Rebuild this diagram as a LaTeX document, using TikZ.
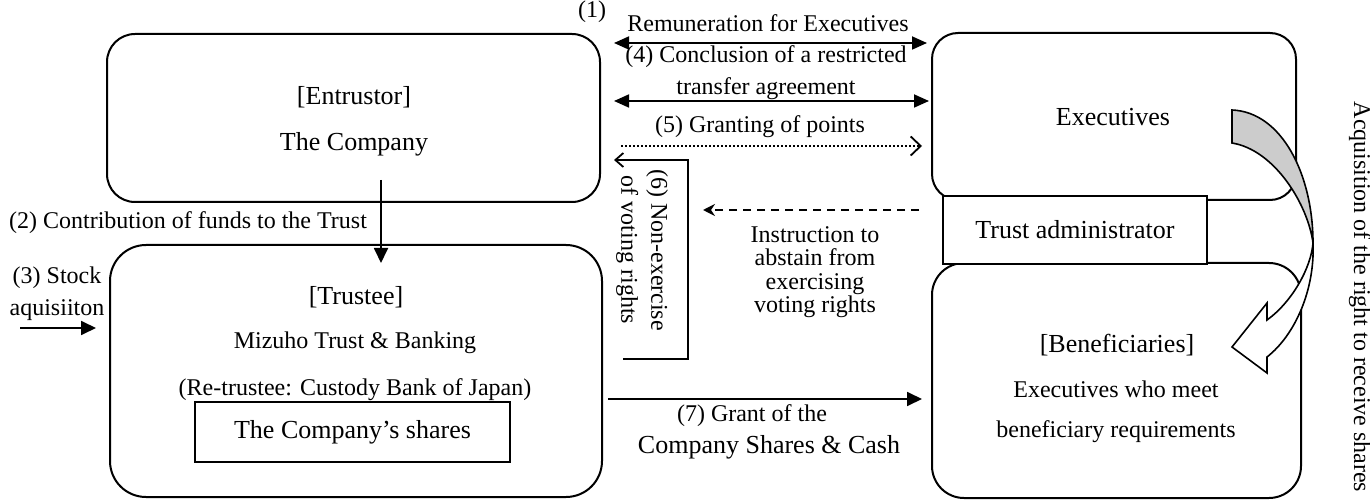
\documentclass[tikz,border=0pt]{standalone}
\usepackage{fontspec}
\setmainfont{Liberation Serif}
\usetikzlibrary{arrows.meta}
\tikzset{
  box/.style={draw, line width=1pt, inner sep=0pt},
  lbl/.style={inner sep=0pt, align=center, font=\fontsize{12}{14}\selectfont},
  big/.style={font=\fontsize{13}{15}\selectfont},
  conn/.style={line width=0.9pt},
  solidhead/.style={-{Triangle[length=7.5pt,width=7pt]}},
  dblhead/.style={{Triangle[length=7.5pt,width=6.5pt]}-{Triangle[length=7.5pt,width=6.5pt]}},
  openhead/.style={-{Straight Barb[length=5pt,width=9.5pt,line width=0.9pt]}},
  barbhead/.style={-{Straight Barb[length=4pt,width=7pt,line width=0.9pt]}},
  stealthhead/.style={-{Stealth[length=6pt,width=6pt,inset=2pt]}},
  dashline/.style={dash pattern=on 4pt off 3pt},
  dotline/.style={dash pattern=on 1pt off 1pt},
}
\begin{document}
\begin{tikzpicture}[x=0.5pt,y=-0.5pt]
\useasboundingbox (0,0) rectangle (1370,502);

% boxes
\node[box, rounded corners=14pt, minimum width=246.5pt, minimum height=84pt] (ent) at (353.5,118) {};
\node[box, rounded corners=18pt, minimum width=246pt, minimum height=126pt] (tru) at (356,371) {};
\node[box, rounded corners=13pt, minimum width=182pt, minimum height=83.5pt] (exe) at (1114,116.5) {};
\node[box, rounded corners=16pt, minimum width=184.5pt, minimum height=117.5pt] (ben) at (1116.5,380.5) {};
\node[box, big, fill=white, minimum width=132pt, minimum height=34pt] (ta) at (1075,230) {Trust administrator};
\node[box, big, minimum width=157.5pt, minimum height=30pt] (shr) at (352.5,432) {The Company’s shares};

% texts in boxes
\node[lbl, font=\fontsize{13}{23}\selectfont] (entt) at (354,121) {[Entrustor]\\The Company};
\node[lbl, big] (trut) at (356,297) {[Trustee]};
\node[lbl, font=\fontsize{12}{23.5}\selectfont] (trud) at (355,366) {Mizuho Trust \& Banking\\(Re-trustee: Custody Bank of Japan)};
\node[lbl, big] (exet) at (1113,117) {Executives};
\node[lbl, big] (bent) at (1117,345) {[Beneficiaries]};
\node[lbl, font=\fontsize{12}{20}\selectfont] (bend) at (1116,412) {Executives who meet\\beneficiary requirements};

% curved arrow
\draw[line width=0.8pt, fill=black!20] (1232,110) .. controls (1282,112) and (1313,175) .. (1313,243)
  .. controls (1308,205) and (1275,150) .. (1232,143) -- cycle;
\draw[line width=0.8pt, fill=white] (1313,243) .. controls (1315,290) and (1295,335) .. (1267,357)
  -- (1267,373) -- (1232,347) -- (1267,303) -- (1267,320)
  .. controls (1292,302) and (1311,268) .. (1313,243) -- cycle;
\node[lbl, rotate=-90] (acq) at (1360,297) {Acquisition of the right to receive shares};

% connectors
\draw[conn, dblhead, shorten <=6.5pt, shorten >=2pt] (ent.east |- 0,43) -- (exe.west |- 0,43);
\draw[conn, dblhead, shorten <=6.5pt, shorten >=1pt] (ent.east |- 0,101) -- (exe.west |- 0,101);
\draw[conn, dotline, openhead, shorten <=10pt, shorten >=4.5pt] (ent.east |- 0,146) -- (exe.west |- 0,146);
\coordinate (e6s) at (623,359);
\coordinate (e6c) at (688,359);
\draw[conn, barbhead, shorten >=6.5pt] (e6s) -- (e6c) -- (e6c |- 0,160) -- (ent.east |- 0,160);
\draw[conn, dashline, stealthhead, shorten <=11.5pt, shorten >=7.5pt] (ta.west |- 0,210) -- (e6c |- 0,210);
\coordinate (c2) at (381,180);
\draw[conn, solidhead, shorten >=-9.5pt] (c2) -- (c2 |- tru.north);
\coordinate (c3) at (20,328);
\draw[conn, solidhead, shorten >=6.5pt] (c3) -- (tru.west |- c3);
\draw[conn, solidhead, shorten <=2.5pt, shorten >=4.5pt] (tru.east |- 0,399) -- (ben.west |- 0,399);

% connector labels
\node[lbl] (l1) at (592,12) {(1)};
\node[lbl] (lrem) at (768,23) {Remuneration for Executives};
\node[lbl, font=\fontsize{12}{16}\selectfont] (l4) at (766,73) {(4) Conclusion of a restricted\\transfer agreement};
\node[lbl] (l5) at (760,127) {(5) Granting of points};
\node[lbl, rotate=-90, font=\fontsize{12}{15}\selectfont] (l6) at (642,250) {(6) Non-exercise\\of voting rights};
\node[lbl, font=\fontsize{12}{11.65}\selectfont] (lins) at (815,272) {Instruction to\\abstain from\\exercising\\voting rights};
\node[lbl] (l7a) at (752,416) {(7) Grant of the};
\node[lbl, font=\fontsize{13}{15}\selectfont] (l7b) at (769,447) {Company Shares \& Cash};
\node[lbl] (l2) at (188,223) {(2) Contribution of funds to the Trust};
\node[lbl, font=\fontsize{12}{16}\selectfont] (l3) at (57,294) {(3) Stock\\aquisiiton};
\end{tikzpicture}
\end{document}
